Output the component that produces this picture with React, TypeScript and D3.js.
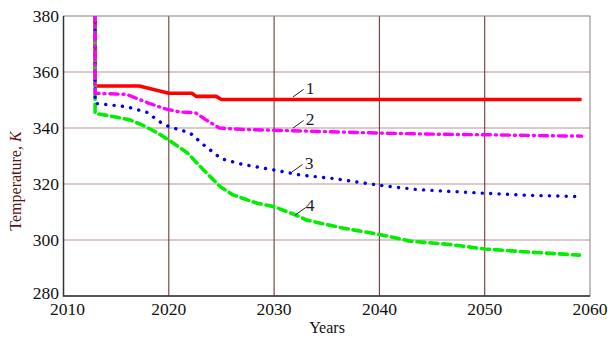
import React, { useEffect, useRef } from 'react'
import * as d3 from 'd3'

// series values (year, temperature in K)
const years1 = [2013, 2013, 2017.2, 2020, 2022.2, 2022.6, 2024.5, 2025, 2059.2]
const temp1 = [381, 355, 355, 352.4, 352.4, 351.3, 351.3, 350.2, 350.2]

const years2 = [2013, 2013, 2016, 2018, 2019.5, 2021, 2022.5, 2023.5, 2024.8, 2027, 2030, 2035, 2040, 2045, 2050, 2055, 2059.2]
const temp2 = [381, 352.4, 352, 349, 347, 345.7, 345.5, 343, 340, 339.5, 339.2, 338.7, 338.2, 337.8, 337.6, 337.3, 337.1]

const years3 = [2013, 2013, 2016, 2018, 2019, 2020, 2022, 2023.3, 2025, 2027, 2030, 2032.5, 2035.5, 2038.8, 2040.3, 2043.4, 2046, 2050, 2054, 2058.8]
const temp3 = [381, 348.8, 347.6, 345.5, 342.5, 340.5, 338.3, 334, 329, 327, 325, 323.2, 322, 320.2, 319.4, 318.1, 317.5, 316.7, 316, 315.5]

const years4 = [2013, 2013, 2014, 2016.3, 2017.5, 2019, 2020, 2021.8, 2023.3, 2024.9, 2026.1, 2028.4, 2030, 2032, 2033.1, 2036.6, 2040, 2042.9, 2046.7, 2050, 2054.6, 2059]
const temp4 = [381, 345.2, 344.6, 342.9, 341, 338.1, 335.7, 331, 325, 319, 316.1, 313.1, 311.9, 309, 307.1, 304.2, 302, 299.6, 298.4, 296.8, 295.6, 294.6]

const xTicks = [2010, 2020, 2030, 2040, 2050, 2060]
const yTicks = [280, 300, 320, 340, 360, 380]
const seriesLabels = ['1', '2', '3', '4']

const W = 608
const H = 341

const App = () => {
	const ref = useRef<SVGSVGElement>(null)

	useEffect(() => {
		const svg = d3.select(ref.current)
		svg.selectAll('*').remove()

		const x = d3.scaleLinear().domain([2010, 2060]).range([63.5, 590])
		const y = d3.scaleLinear().domain([280, 380]).range([296, 16])

		svg.append('defs')
			.append('clipPath')
			.attr('id', 'plot-clip')
			.append('rect')
			.attr('x', 63.5)
			.attr('y', 16)
			.attr('width', 590 - 63.5)
			.attr('height', 296 - 16)

		// grid
		svg.append('g')
			.selectAll('line')
			.data(yTicks.slice(1, -1))
			.join('line')
			.attr('x1', 63.5)
			.attr('x2', 590)
			.attr('y1', d => y(d))
			.attr('y2', d => y(d))
			.attr('stroke', '#b39696')
			.attr('stroke-width', 1.2)
		svg.append('g')
			.selectAll('line')
			.data(xTicks.slice(1, -1))
			.join('line')
			.attr('x1', d => x(d))
			.attr('x2', d => x(d))
			.attr('y1', 16)
			.attr('y2', 296)
			.attr('stroke', '#6e3a3a')
			.attr('stroke-width', 1.1)

		// frame
		svg.append('rect')
			.attr('x', 63.5)
			.attr('y', 16)
			.attr('width', 590 - 63.5)
			.attr('height', 296 - 16)
			.attr('fill', 'none')
			.attr('stroke', '#8a8080')
			.attr('stroke-width', 1)
		svg.append('path')
			.attr('d', `M63.5,16V296H590`)
			.attr('fill', 'none')
			.attr('stroke', '#333')
			.attr('stroke-width', 1.5)

		const series = [
			{ xs: years1, ys: temp1, color: '#ff0000', width: 3.6, dash: null, cap: 'butt' },
			{ xs: years4, ys: temp4, color: '#00ee00', width: 3.6, dash: '8,5', cap: 'round' },
			{ xs: years3, ys: temp3, color: '#0000ee', width: 3.4, dash: '0.1,8.3', cap: 'round' },
			{ xs: years2, ys: temp2, color: '#ff00ff', width: 3.4, dash: '8,5,1,5', cap: 'round' },
		]

		const g = svg.append('g').attr('clip-path', 'url(#plot-clip)')
		series.forEach(s => {
			const pts: [number, number][] = s.xs.map((v, i) => [x(v), y(s.ys[i])])
			g.append('path')
				.attr('d', d3.line()(pts))
				.attr('fill', 'none')
				.attr('stroke', s.color)
				.attr('stroke-width', s.width)
				.attr('stroke-linecap', s.cap)
				.attr('stroke-linejoin', 'round')
				.attr('stroke-dasharray', s.dash)
		})

		// tick labels
		svg.append('g')
			.selectAll('text')
			.data(yTicks)
			.join('text')
			.attr('x', 59)
			.attr('y', (d, i) => y(d) + (i === 0 ? 3 : 6.3))
			.attr('text-anchor', 'end')
			.attr('font-family', "'Liberation Serif', serif")
			.attr('font-size', 17.5)
			.attr('fill', '#111')
			.text(d => d)
		svg.append('g')
			.selectAll('text')
			.data(xTicks)
			.join('text')
			.attr('x', (d, i) => x(d) + (i === 0 ? 4 : 0))
			.attr('y', 315)
			.attr('text-anchor', 'middle')
			.attr('font-family', "'Liberation Serif', serif")
			.attr('font-size', 17.5)
			.attr('fill', '#111')
			.text(d => d)

		// axis titles
		svg.append('text')
			.attr('x', 327)
			.attr('y', 333)
			.attr('text-anchor', 'middle')
			.attr('font-family', "'Liberation Serif', serif")
			.attr('font-size', 16)
			.attr('fill', '#111')
			.text('Years')
		const yl = svg.append('text')
			.attr('transform', 'translate(21,181) rotate(-90)')
			.attr('text-anchor', 'middle')
			.attr('font-family', "'Liberation Serif', serif")
			.attr('font-size', 16)
			.attr('fill', '#5a1414')
		yl.append('tspan').text('Temperature, ')
		yl.append('tspan').attr('font-style', 'italic').text('K')

		// curve labels with leaders
		const notes = [
			{ lx: 2031.8, ly: 351.1, tx: 2033.0, ty: 352.1 },
			{ lx: 2031.8, ly: 340.0, tx: 2033.0, ty: 341.1 },
			{ lx: 2031.7, ly: 324.3, tx: 2032.9, ty: 325.4 },
			{ lx: 2032.0, ly: 308.9, tx: 2033.0, ty: 310.4 },
		]
		const ng = svg.append('g')
		notes.forEach((n, i) => {
			ng.append('line')
				.attr('x1', x(n.lx))
				.attr('y1', y(n.ly))
				.attr('x2', x(n.lx) + 10.5)
				.attr('y2', y(n.ly) - 7.5)
				.attr('stroke', '#222')
				.attr('stroke-width', 1)
			ng.append('text')
				.attr('x', x(n.tx))
				.attr('y', y(n.ty))
				.attr('font-family', "'Liberation Serif', serif")
				.attr('font-size', 17.5)
				.attr('fill', '#1a1a33')
				.text(seriesLabels[i])
		})
	}, [])

	return (
		<svg
			ref={ref}
			width={W}
			height={H}
			style={{ position: 'absolute', left: 0, top: 0, background: '#fff' }}
		/>
	)
}

export default App
